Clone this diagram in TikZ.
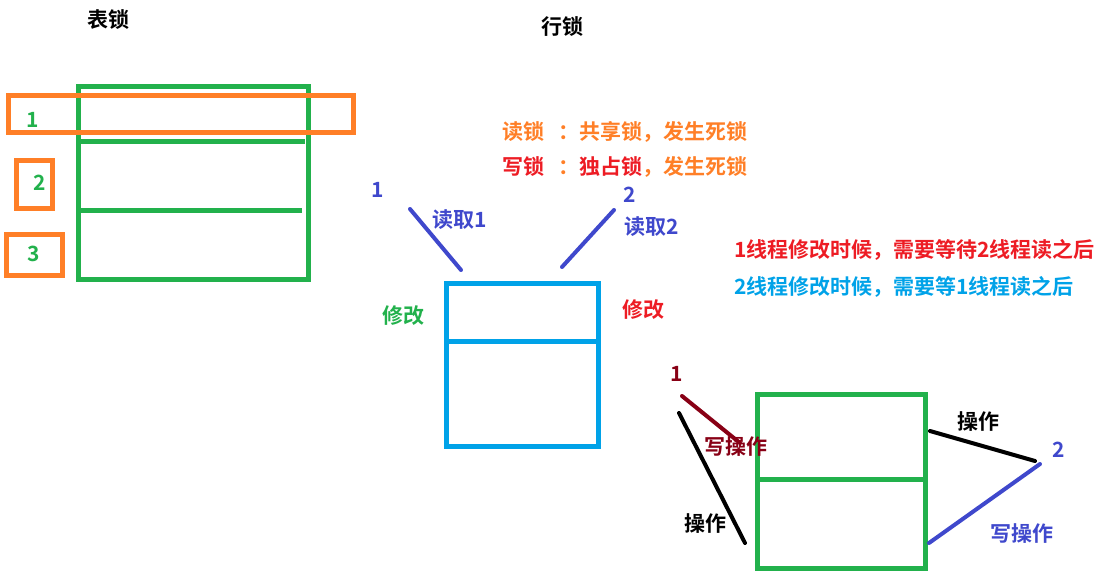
\documentclass[tikz,border=0pt]{standalone}
\usepackage{fontspec}
\setmainfont{Noto Sans CJK SC Bold}
\definecolor{lkgreen}{RGB}{34,177,76}
\definecolor{lkorange}{RGB}{255,127,39}
\definecolor{lkred}{RGB}{237,28,36}
\definecolor{lkblue}{RGB}{63,72,204}
\definecolor{lkcyan}{RGB}{0,162,232}
\definecolor{lkdark}{RGB}{136,0,21}
\tikzset{
  txt/.style={font=\fontsize{21}{24}\selectfont, inner sep=0pt},
  stroke/.style={line width=4pt, line cap=round},
  frame/.style={line width=5pt}
}
\begin{document}
\begin{tikzpicture}[x=1pt, y=-1pt]
  \useasboundingbox (0, 0) rectangle (1103, 577);
  % table lock
  \node[txt] (tbl) at (108, 20) {表锁};
  \draw[frame, lkgreen] (78, 87) rectangle (308, 280);
  \draw[frame, lkgreen] (77, 142) -- (305, 142);
  \draw[frame, lkgreen] (80, 211) -- (302, 211);
  \draw[frame, lkorange] (8, 96) rectangle (353, 133);
  \draw[frame, lkorange] (16, 161) rectangle (52, 209);
  \draw[frame, lkorange] (6, 235) rectangle (62, 276);
  \node[txt, lkgreen] (r1) at (33, 120) {1};
  \node[txt, lkgreen] (r2) at (40, 183) {2};
  \node[txt, lkgreen] (r3) at (34, 254) {3};
  % row lock
  \node[txt] (row) at (562, 27) {行锁};
  \node[txt, anchor=west, lkorange] (rd) at (502, 132) {读锁\hspace{14pt}：共享锁，发生死锁};
  \node[txt, anchor=west] (wr) at (502, 167)
    {\textcolor{lkred}{写锁}\hspace{14pt}\textcolor{lkorange}{：}\textcolor{lkred}{独占锁}\textcolor{lkorange}{，发生死锁}};
  \node[txt, lkblue] (t1) at (378, 190) {1};
  \node[txt, lkblue] (t2) at (630, 195) {2};
  \node[txt, lkblue] (rd1) at (460, 220) {读取1};
  \node[txt, lkblue] (rd2) at (652, 227) {读取2};
  \coordinate (a1) at (410, 209);
  \coordinate (a2) at (461, 270);
  \coordinate (b1) at (614, 210);
  \coordinate (b2) at (562, 267);
  \draw[stroke, lkblue] (a1) -- (a2);
  \draw[stroke, lkblue] (b1) -- (b2);
  \draw[frame, lkcyan] (446, 284) rectangle (598, 446);
  \draw[frame, lkcyan] (446, 341) -- (598, 341);
  \node[txt, lkgreen] (m1) at (403, 316) {修改};
  \node[txt, lkred] (m2) at (643, 310) {修改};
  \node[txt, anchor=west, lkred] (n1) at (734, 250) {1线程修改时候，需要等待2线程读之后};
  \node[txt, anchor=west, lkcyan] (n2) at (734, 287) {2线程修改时候，需要等1线程读之后};
  % write operations
  \draw[frame, lkgreen] (757, 394) rectangle (925, 568);
  \draw[frame, lkgreen] (757, 479) -- (925, 479);
  \node[txt, lkdark] (w1) at (677, 374) {1};
  \node[txt, lkblue] (w2) at (1059, 450) {2};
  \coordinate (c1) at (682, 396);
  \coordinate (c2) at (740, 443);
  \coordinate (d1) at (679, 413);
  \coordinate (d2) at (745, 543);
  \coordinate (e1) at (930, 431);
  \coordinate (e2) at (1035, 461);
  \coordinate (f1) at (1040, 464);
  \coordinate (f2) at (929, 543);
  \draw[stroke, lkdark] (c1) -- (c2);
  \draw[stroke, black] (d1) -- (d2);
  \draw[stroke, black] (e1) -- (e2);
  \draw[stroke, lkblue] (f1) -- (f2);
  \node[txt, lkdark] (op1) at (736, 447) {写操作};
  \node[txt] (op2) at (705, 524) {操作};
  \node[txt] (op3) at (978, 422) {操作};
  \node[txt, lkblue] (op4) at (1022, 534) {写操作};
\end{tikzpicture}
\end{document}
